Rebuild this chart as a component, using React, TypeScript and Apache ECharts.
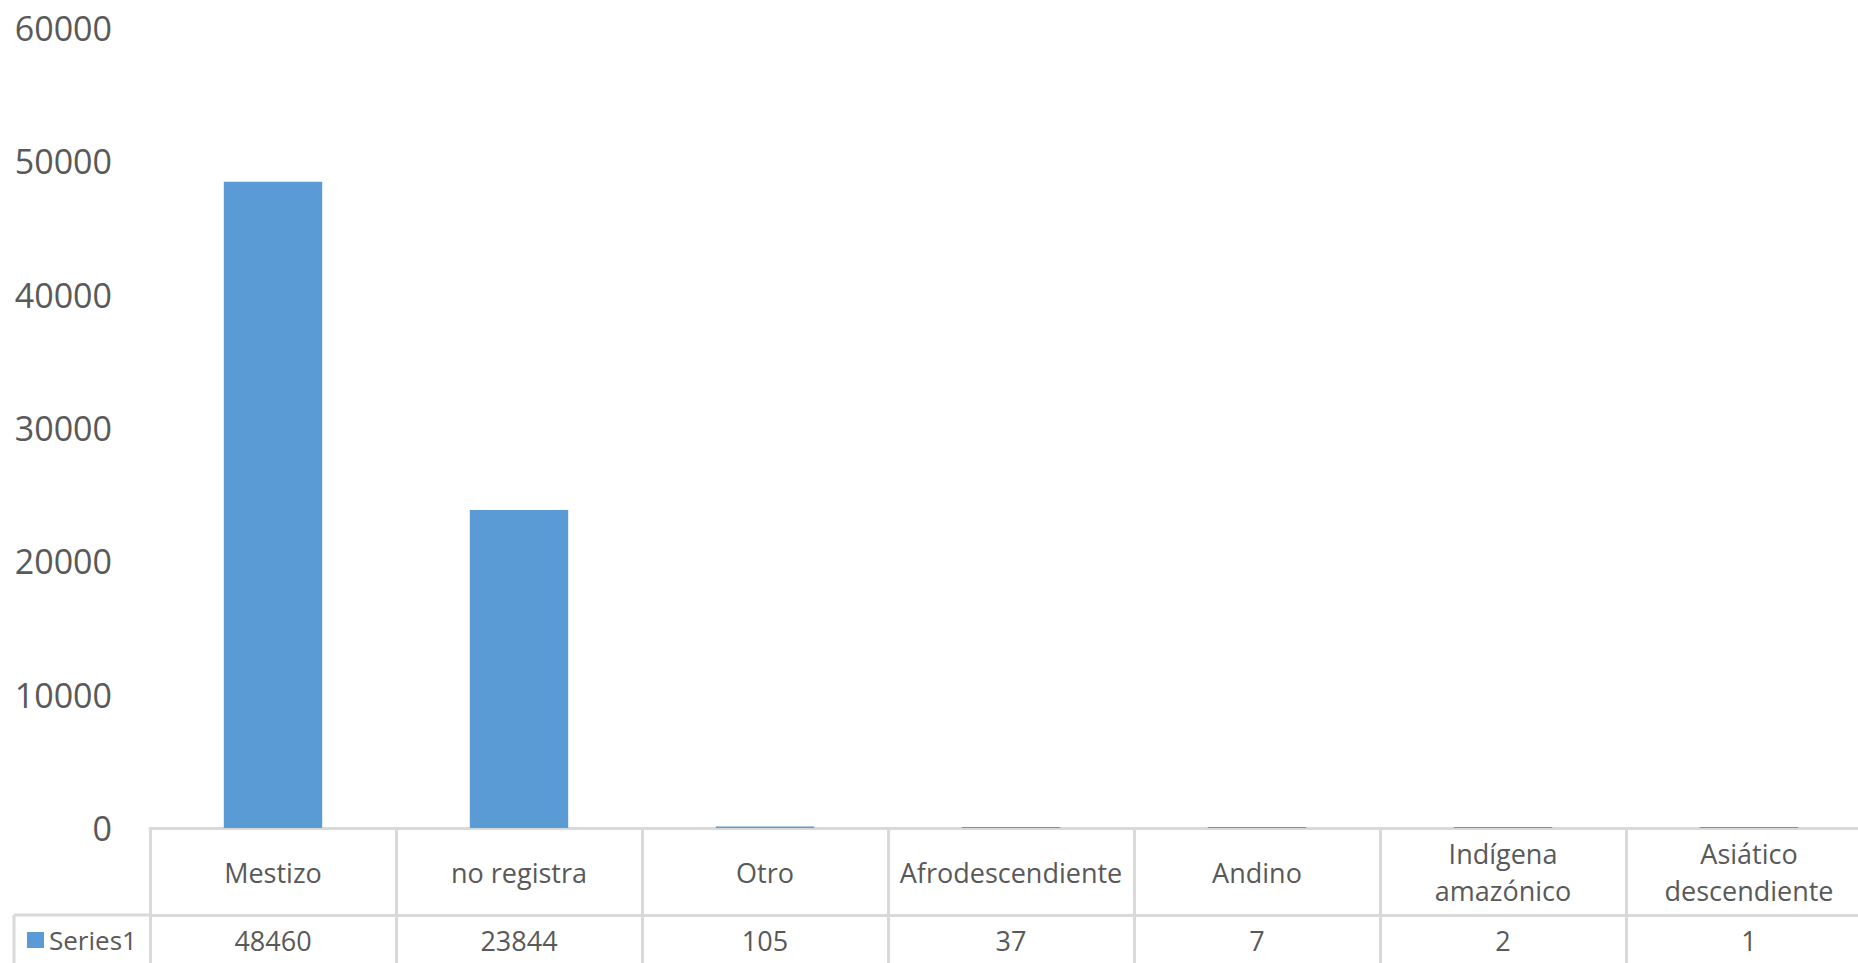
import React, { useEffect, useRef } from "react";
import * as echarts from "echarts";

const categories = [
  "Mestizo",
  "no registra",
  "Otro",
  "Afrodescendiente",
  "Andino",
  "Indígena\namazónico",
  "Asiático\ndescendiente",
];
const seriesName = "Series1";
const values = [48460, 23844, 105, 37, 7, 2, 1];
const yMin = 0;
const yMax = 60000;
const yInterval = 10000;

const FONT = "'Open Sans', 'Noto Sans', sans-serif";
const TEXT = "#595959";
const BORDER = "#d9d9d9";
const BAR = "#5b9bd5";

export default function App() {
  const ref = useRef<HTMLDivElement>(null);

  useEffect(() => {
    document.body.style.margin = "0";
    document.body.style.overflow = "hidden";
    if (!ref.current) return;
    const chart = echarts.init(ref.current, null, { renderer: "svg" });
    chart.setOption({
      animation: false,
      backgroundColor: "#ffffff",
      textStyle: { fontFamily: FONT },
      grid: {
        left: 150,
        width: 1722,
        top: 28,
        height: 800,
        containLabel: false,
        outerBoundsMode: "none",
      },
      legend: {
        data: [seriesName],
        left: 27,
        top: 925,
        padding: 0,
        icon: "rect",
        itemWidth: 17,
        itemHeight: 16,
        textStyle: { color: TEXT, fontSize: 26, fontFamily: FONT, lineHeight: 30 },
        selectedMode: false,
      },
      xAxis: [
        {
          type: "category",
          data: categories,
          position: "bottom",
          boundaryGap: true,
          axisLine: { show: true, lineStyle: { color: BORDER, width: 3 } },
          axisTick: {
            show: true,
            alignWithLabel: false,
            inside: false,
            length: 86,
            lineStyle: { color: BORDER, width: 3 },
          },
          axisLabel: {
            color: TEXT,
            fontSize: 27,
            fontFamily: FONT,
            lineHeight: 37,
            margin: 44,
            verticalAlign: "middle",
            interval: 0,
            align: "center",
          },
          splitLine: { show: false },
        },
        {
          type: "category",
          data: values.map((v) => String(v)),
          position: "bottom",
          offset: 87,
          boundaryGap: true,
          axisLine: { show: true, lineStyle: { color: BORDER, width: 3 } },
          axisTick: {
            show: true,
            alignWithLabel: false,
            inside: false,
            length: 60,
            lineStyle: { color: BORDER, width: 3 },
          },
          axisLabel: {
            color: TEXT,
            fontSize: 27,
            fontFamily: FONT,
            margin: 25,
            verticalAlign: "middle",
            interval: 0,
          },
          splitLine: { show: false },
        },
      ],
      yAxis: {
        type: "value",
        min: yMin,
        max: yMax,
        interval: yInterval,
        axisLine: { show: false },
        axisTick: { show: false },
        splitLine: { show: false },
        axisLabel: {
          color: TEXT,
          fontSize: 34,
          fontFamily: FONT,
          margin: 38,
          formatter: (v: number) => String(v),
        },
      },
      series: [
        {
          name: seriesName,
          type: "bar",
          xAxisIndex: 0,
          data: values,
          barWidth: "40%",
          barMinHeight: 1,
          itemStyle: { color: BAR },
        },
      ],
      graphic: [
        {
          type: "line",
          shape: { x1: 14, y1: 915, x2: 150, y2: 915 },
          style: { stroke: BORDER, lineWidth: 3 },
          silent: true,
        },
        {
          type: "line",
          shape: { x1: 14, y1: 915, x2: 14, y2: 963 },
          style: { stroke: BORDER, lineWidth: 3 },
          silent: true,
        },
      ],
    });
    return () => chart.dispose();
  }, []);

  return <div ref={ref} style={{ width: 1858, height: 963 }} />;
}
